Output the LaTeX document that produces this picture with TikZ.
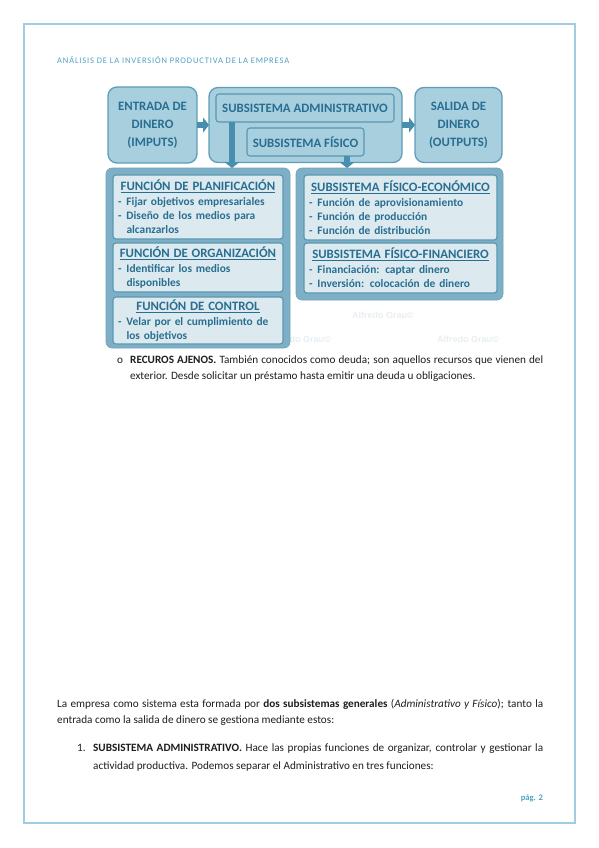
\documentclass[tikz,border=0pt]{standalone}
\usepackage{fontspec}
\setmainfont{Carlito}
\newfontfamily\headfont[LetterSpace=10]{Carlito}
\newfontfamily\wmfont{Liberation Sans}
\usepackage{tikz}
\usetikzlibrary{
  arrows.meta,
  positioning
}
\definecolor{pageframe}{RGB}{160,205,225}
\definecolor{headblue}{RGB}{79,160,196}
\definecolor{topfill}{RGB}{168,207,222}
\definecolor{topborder}{RGB}{95,157,185}
\definecolor{outerfill}{RGB}{125,176,198}
\definecolor{innerfill}{RGB}{220,234,240}
\definecolor{innerborder}{RGB}{90,150,178}
\definecolor{arrowblue}{RGB}{72,142,175}
\definecolor{diagtext}{RGB}{40,110,145}
\definecolor{bodyink}{RGB}{30,30,30}
\definecolor{wmarkgray}{RGB}{232,238,242}
\newcommand{\boxtitle}[1]{{\centering\fontsize{12.8}{15}\selectfont\underline{#1}\par}\vspace{1pt}}
\newcommand{\guion}[1]{\par\noindent\makebox[8.5pt][l]{-}#1}
\newcommand{\sigue}[1]{\par\noindent\hspace*{8.5pt}#1}
\tikzset{
  topbox/.style={draw=topborder,line width=1.3pt,fill=topfill,
    rounded corners=9pt,align=center,inner sep=0pt,outer sep=0pt,
    font=\fontsize{12.8}{18}\selectfont\bfseries,text=diagtext},
  namebox/.style={draw=innerborder,line width=1.1pt,fill=topfill,
    rounded corners=3pt,align=center,inner sep=0pt,outer sep=0pt,
    font=\fontsize{12.8}{15}\selectfont\bfseries,text=diagtext},
  groupbox/.style={fill=outerfill,draw=outerfill!92!black,line width=0.6pt,
    rounded corners=6pt,inner sep=0pt,outer sep=0pt},
  listbox/.style={draw=innerborder,line width=1.1pt,fill=innerfill,
    rounded corners=3pt,align=left,inner xsep=5pt,inner ysep=0pt,outer sep=0pt,
    font=\fontsize{11.4}{14}\selectfont\bfseries,text=diagtext},
  flow/.style={-{Triangle[length=6pt,width=15pt]},line width=6.5pt,draw=arrowblue},
  bodytxt/.style={font=\fontsize{11.2}{16}\selectfont,text=bodyink,
    inner sep=0pt,anchor=base west},
  wmark/.style={font=\wmfont\bfseries\fontsize{9}{9}\selectfont,
    text=wmarkgray,inner sep=0pt}
}

\begin{document}
\begin{tikzpicture}[x=1pt,y=-1pt,node distance=12pt]
  \useasboundingbox (0,0) rectangle (599,848);
  \fill[white] (0,0) rectangle (599,848);
  \draw[pageframe,line width=1.3pt] (24,24) rectangle (575,823);
  \node[font=\headfont\fontsize{8.5}{8.5}\selectfont,text=headblue,
    inner sep=0pt,anchor=base west] (cabecera) at (57,64)
    {ANÁLISIS DE LA INVERSIÓN PRODUCTIVA DE LA EMPRESA};
  % marcas de agua
  \node[wmark] (wm5) at (383,315) {Alfredo Grau©};
  \node[wmark] (wm6) at (300,339) {Alfredo Grau©};
  \node[wmark] (wm7) at (468,339) {Alfredo Grau©};
  % fila superior
  \node[topbox,minimum width=89pt,minimum height=76pt] (entrada) at (152.5,125)
    {ENTRADA DE\\DINERO\\(IMPUTS)};
  \node[topbox,minimum width=193pt,minimum height=75pt,right=12pt of entrada] (sistema) {};
  \node[topbox,minimum width=87pt,minimum height=75pt,right=13pt of sistema] (salida)
    {SALIDA DE\\DINERO\\(OUTPUTS)};
  \node[namebox,minimum width=178pt,minimum height=28pt] (admin) at (305,108)
    {SUBSISTEMA ADMINISTRATIVO};
  \node[namebox,minimum width=117pt,minimum height=28pt] (fisico) at (305.5,142)
    {SUBSISTEMA FÍSICO};
  % bloques inferiores
  \node[groupbox,minimum width=184pt,minimum height=180pt] (funciones) at (198,258) {};
  \node[groupbox,minimum width=207pt,minimum height=132pt] (fisicos) at (399.5,234) {};
  \node[listbox,text width=160pt,minimum height=64pt] (planif) at (198,207)
    {\boxtitle{FUNCIÓN DE PLANIFICACIÓN}\guion{Fijar objetivos empresariales}%
     \guion{Diseño de los medios para}\sigue{alcanzarlos}};
  \node[listbox,text width=160pt,minimum height=49pt,below=4pt of planif] (organiz)
    {\boxtitle{FUNCIÓN DE ORGANIZACIÓN}\guion{Identificar los medios}\sigue{disponibles}};
  \node[listbox,text width=160pt,minimum height=47pt,below=5pt of organiz] (control)
    {\boxtitle{FUNCIÓN DE CONTROL}\guion{Velar por el cumplimiento de}\sigue{los objetivos}};
  \node[listbox,text width=183pt,minimum height=65pt] (economico) at (400.5,207.5)
    {\boxtitle{SUBSISTEMA FÍSICO-ECONÓMICO}\guion{Función de aprovisionamiento}%
     \guion{Función de producción}\guion{Función de distribución}};
  \node[listbox,text width=183pt,minimum height=50pt,below=3pt of economico] (financiero)
    {\boxtitle{SUBSISTEMA FÍSICO-FINANCIERO}\guion{Financiación: captar dinero}%
     \guion{Inversión: colocación de dinero}};
  % flechas
  \draw[flow] (entrada) -- (sistema);
  \draw[flow] (sistema) -- (salida);
  \draw[flow] ([xshift=16pt]admin.south west) -- ([xshift=16pt]admin.south west |- funciones.north);
  \draw[flow] ([xshift=-17pt]fisico.south east) -- ([xshift=-17pt]fisico.south east |- fisicos.north);
  % texto de la pagina
  \node[bodytxt] (vineta) at (117,363) {o};
  \node[bodytxt] (ajenos1) at (130,363)
    {\makebox[413pt][s]{\textbf{RECUROS AJENOS.} También conocidos como deuda; son aquellos recursos que vienen del}};
  \node[bodytxt] (ajenos2) at (130,379)
    {exterior. Desde solicitar un préstamo hasta emitir una deuda u obligaciones.};
  \node[bodytxt] (empresa1) at (57,707)
    {\makebox[486pt][s]{La empresa como sistema esta formada por \textbf{dos subsistemas generales} (\textit{Administrativo y Físico}); tanto la}};
  \node[bodytxt] (empresa2) at (57,723)
    {entrada como la salida de dinero se gestiona mediante estos:};
  \node[bodytxt] (numero) at (77,751) {1.};
  \node[bodytxt] (admin1) at (93,751)
    {\makebox[450pt][s]{\textbf{SUBSISTEMA ADMINISTRATIVO.} Hace las propias funciones de organizar, controlar y gestionar la}};
  \node[bodytxt] (admin2) at (93,769)
    {actividad productiva. Podemos separar el Administrativo en tres funciones:};
  \node[font=\fontsize{8.5}{8.5}\selectfont\bfseries,text=headblue,inner sep=0pt,
    anchor=base east] (pagina) at (543,800) {pág. 2};
\end{tikzpicture}
\end{document}
